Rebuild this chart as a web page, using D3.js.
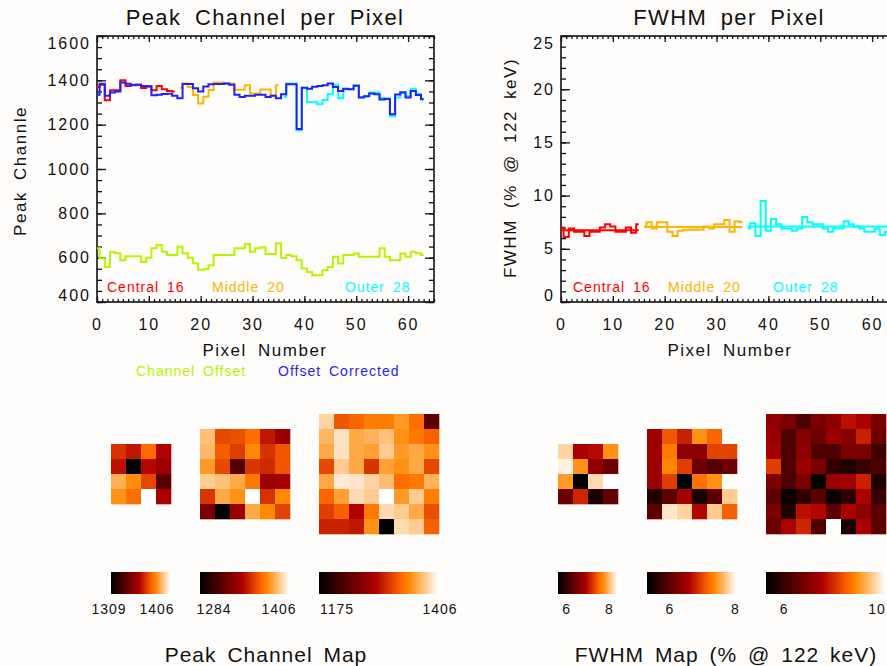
<!DOCTYPE html>
<html lang="en">
<head>
<meta charset="UTF-8">
<title>Peak Channel / FWHM per Pixel</title>
<script src="https://d3js.org/d3.v7.min.js"></script>
<style>
  body { margin: 0; background: #fffdfb; }
  svg { display: block; font-family: "Liberation Sans", Arial, sans-serif; }
  .title { font-size: 22px; letter-spacing: 1.4px; word-spacing: 6px; fill: #111; }
  .axis-title { font-size: 17px; letter-spacing: 1.5px; word-spacing: 5px; fill: #111; }
  .tick text { font-size: 16px; letter-spacing: 2px; fill: #111; }
  .tick line { stroke: #111; stroke-width: 1.3; }
  .legend { font-size: 14px; letter-spacing: 1px; word-spacing: 3px; }
  .cb-label { font-size: 14px; letter-spacing: 1px; fill: #111; }
  .map-title { font-size: 21px; letter-spacing: 1px; word-spacing: 4px; fill: #111; }
  .frame { fill: none; stroke: #111; stroke-width: 1.6; }
  .step { fill: none; stroke-width: 2; }
</style>
</head>
<body>
<script>
// pixel groups
const centralIdx = d3.range(0, 16);
const middleIdx = d3.range(16, 36);
const outerIdx = d3.range(36, 64);
const allIdx = d3.range(0, 64);

// peak channel per pixel (raw, by ring)
const peakCentral = [1370, 1380, 1310, 1355, 1355, 1400, 1375, 1380, 1380, 1365, 1372, 1355, 1375, 1360, 1352, 1350];
const peakMiddle = [1367, 1386, 1370, 1334, 1296, 1326, 1356, 1390, 1390, 1386, 1386, 1358, 1358, 1378, 1341, 1341, 1359, 1359, 1332, 1378];
const peakOuter = [1326, 1386, 1386, 1175, 1367, 1301, 1301, 1292, 1311, 1337, 1380, 1319, 1360, 1360, 1378, 1325, 1328, 1345, 1345, 1320,
                   1318, 1238, 1322, 1343, 1330, 1362, 1340, 1312];
const peakCorrected = [1335, 1385, 1330, 1345, 1350, 1390, 1385, 1378, 1380, 1375, 1373, 1333, 1335, 1338, 1340, 1330,
                       1319, 1383, 1383, 1364, 1350, 1372, 1382, 1383, 1383, 1386, 1380, 1335, 1325, 1330, 1330, 1335, 1335, 1325, 1330, 1319,
                       1337, 1382, 1382, 1180, 1367, 1362, 1371, 1375, 1378, 1386, 1370, 1352, 1362, 1360, 1376, 1323, 1328, 1341, 1337, 1314,
                       1316, 1247, 1336, 1346, 1323, 1352, 1334, 1316];
const channelOffset = [642, 596, 558, 626, 620, 588, 606, 606, 606, 580, 600, 642, 657, 627, 612, 612,
                       649, 620, 600, 575, 545, 548, 566, 612, 612, 612, 612, 642, 642, 662, 627, 642, 647, 617, 617, 665,
                       598, 612, 606, 588, 551, 535, 521, 521, 543, 558, 604, 574, 612, 612, 619, 604, 604, 604, 604, 642,
                       604, 588, 588, 619, 604, 627, 620, 612];

// FWHM (% @ 122 keV) per pixel
const fwhmCentral = [7.0, 6.1, 6.9, 6.6, 6.6, 6.2, 6.6, 6.6, 7.0, 7.3, 7.1, 6.6, 6.6, 7.0, 6.5, 7.3];
const fwhmMiddle = [7.1, 7.5, 6.9, 7.5, 7.5, 6.6, 6.2, 6.7, 6.8, 6.8, 6.8, 6.8, 7.1, 6.9, 7.3, 7.3, 7.7, 6.6, 7.6, 7.5];
const fwhmOuter = [6.9, 7.4, 6.2, 9.5, 6.7, 7.8, 7.3, 6.9, 6.9, 6.7, 6.9, 8.0, 7.5, 7.3, 7.3, 6.9, 6.6, 6.9, 6.9, 7.6,
                   7.3, 7.1, 6.9, 6.6, 6.6, 6.9, 6.3, 6.6];

// maps
const peakMapCentral = [
  [1365, 1359, 1376, 1355],
  [1358, 1309, 1356, 1350],
  [1390, 1383, 1369, 1333],
  [1384, 1377, 1406, 1354]];
const peakMapMiddle = [
  [1390, 1360, 1362, 1369, 1347, 1335],
  [1388, 1365, 1357, 1376, 1354, 1363],
  [1380, 1360, 1311, 1355, 1352, 1363],
  [1393, 1390, 1384, 1372, 1335, 1338],
  [1355, 1384, 1378, 1406, 1354, 1376],
  [1324, 1284, 1335, 1384, 1376, 1358]];
const peakMapOuter = [
  [1385, 1325, 1332, 1344, 1344, 1357, 1337, 1233],
  [1371, 1392, 1364, 1369, 1376, 1353, 1341, 1330],
  [1364, 1392, 1364, 1360, 1381, 1357, 1364, 1353],
  [1318, 1381, 1364, 1309, 1360, 1353, 1364, 1318],
  [1364, 1397, 1394, 1385, 1374, 1337, 1341, 1369],
  [1332, 1360, 1388, 1381, 1406, 1357, 1381, 1344],
  [1314, 1330, 1284, 1341, 1388, 1381, 1364, 1321],
  [1300, 1300, 1295, 1353, 1175, 1388, 1381, 1330]];
const fwhmMapCentral = [
  [8.15, 6.89, 6.97, 7.76],
  [8.32, 7.76, 6.66, 6.41],
  [7.81, 5.60, 8.18, 8.40],
  [6.41, 7.14, 5.80, 6.36]];
const fwhmMapMiddle = [
  [6.46, 7.09, 6.79, 7.42, 7.17, 8.05],
  [6.46, 7.28, 6.35, 6.35, 6.98, 6.98],
  [6.46, 7.36, 6.95, 6.10, 5.93, 6.10],
  [6.46, 6.95, 5.30, 7.23, 7.42, 8.05],
  [5.55, 5.99, 6.51, 5.49, 5.99, 7.75],
  [5.99, 7.91, 7.80, 6.62, 7.75, 7.14]];
const fwhmMapOuter = [
  [7.12, 6.92, 6.29, 6.92, 7.12, 7.70, 7.51, 6.92],
  [7.31, 6.29, 7.02, 6.68, 7.31, 7.02, 7.89, 6.68],
  [7.41, 6.29, 7.12, 6.29, 6.29, 6.92, 6.92, 6.10],
  [8.19, 6.29, 7.31, 6.92, 5.90, 5.71, 6.00, 6.29],
  [6.92, 6.29, 6.92, 5.27, 7.31, 7.41, 7.89, 5.71],
  [6.49, 5.46, 5.90, 6.49, 5.46, 5.90, 7.51, 6.00],
  [6.92, 5.71, 7.70, 7.60, 6.49, 7.51, 7.12, 6.49],
  [6.68, 7.51, 7.94, 6.29, 10.13, 5.61, 7.51, 6.49]];

// axis ticks
const xTicks = [0, 10, 20, 30, 40, 50, 60];
const xMinorTicks = d3.range(0, 66, 1);
const peakTicks = [400, 600, 800, 1000, 1200, 1400, 1600];
const peakMinorTicks = d3.range(400, 1601, 50);
const fwhmTicks = [0, 5, 10, 15, 20, 25];
const fwhmMinorTicks = d3.range(0, 26, 1);
const fwhmBarTicks = [[6, 8], [6, 8], [6, 10]];
const groupLabels = ["Central 16", "Middle 20", "Outer 28"];

const colRed = "#ff0000", colOrange = "#ffb400", colCyan = "#00ffff",
      colBlue = "#1f1fff", colGreen = "#b5f500";

const W = 887, H = 666;
const svg = d3.select("body").append("svg").attr("width", W).attr("height", H);
svg.append("rect").attr("width", W).attr("height", H).attr("fill", "#fffdfb");

// IDL "red temperature" colour table
const clamp = v => Math.max(0, Math.min(1, v));
const redTemp = t => d3.rgb(255 * clamp(t / 0.69), 255 * clamp((t - 0.47) / 0.53), 255 * clamp((t - 0.75) / 0.25)).toString();

function drawPlot(ox, yDomain, yMajor, yMinor) {
  const w = 337, h = 266;
  const g = svg.append("g").attr("transform", `translate(${ox},36)`);
  const x = d3.scaleLinear().domain([0, 65]).range([0, w]);
  const y = d3.scaleLinear().domain(yDomain).range([h, 0]);

  const ax = (sel, axis) => { sel.call(axis); sel.attr("font-size", null).attr("font-family", null); sel.select(".domain").remove(); return sel; };

  const left = ax(g.append("g"), d3.axisLeft(y).tickValues(yMajor).tickFormat(d3.format("d")).tickSizeInner(-9).tickSizeOuter(0).tickPadding(6));
  left.selectAll("text").attr("dy", (d, i, n) => i === 0 ? "-0.08em" : i === n.length - 1 ? "0.76em" : "0.32em");
  ax(g.append("g"), d3.axisLeft(y).tickValues(yMinor).tickSizeInner(-5).tickSizeOuter(0).tickFormat(""));
  ax(g.append("g").attr("transform", `translate(${w},0)`), d3.axisRight(y).tickValues(yMajor).tickSizeInner(-9).tickSizeOuter(0).tickFormat(""));
  ax(g.append("g").attr("transform", `translate(${w},0)`), d3.axisRight(y).tickValues(yMinor).tickSizeInner(-5).tickSizeOuter(0).tickFormat(""));
  ax(g.append("g").attr("transform", `translate(0,${h})`), d3.axisBottom(x).tickValues(xTicks).tickSizeInner(-6).tickSizeOuter(0).tickPadding(17));
  ax(g.append("g").attr("transform", `translate(0,${h})`), d3.axisBottom(x).tickValues(xMinorTicks).tickSizeInner(-3).tickSizeOuter(0).tickFormat(""));
  ax(g.append("g"), d3.axisTop(x).tickValues(xTicks).tickSizeInner(-6).tickSizeOuter(0).tickFormat(""));
  ax(g.append("g"), d3.axisTop(x).tickValues(xMinorTicks).tickSizeInner(-3).tickSizeOuter(0).tickFormat(""));

  g.append("rect").attr("class", "frame").attr("width", w).attr("height", h);
  return { g, x, y, w, h };
}

function stepLine(p, idx, vals, color) {
  const line = d3.line().curve(d3.curveStep).x(d => p.x(d[0])).y(d => p.y(d[1]));
  p.g.append("path").attr("class", "step").attr("stroke", color).attr("d", line(d3.zip(idx, vals)));
}

function meanLine(p, idx, vals, color) {
  const m = d3.mean(vals);
  p.g.append("line").attr("stroke", color).attr("stroke-width", 2)
    .attr("x1", p.x(idx[0])).attr("x2", p.x(idx[idx.length - 1]))
    .attr("y1", p.y(m)).attr("y2", p.y(m));
}

function text(x, y, str, cls, color, anchor = "middle") {
  return svg.append("text").attr("class", cls).attr("x", x).attr("y", y).attr("dy", "0.35em")
    .attr("text-anchor", anchor).attr("fill", color || null).text(str);
}

// --- left: peak channel per pixel
const pL = drawPlot(97, [400, 1600], peakTicks, peakMinorTicks);
stepLine(pL, allIdx, channelOffset, colGreen);
stepLine(pL, centralIdx, peakCentral, colRed);
stepLine(pL, middleIdx, peakMiddle, colOrange);
stepLine(pL, outerIdx, peakOuter, colCyan);
stepLine(pL, allIdx, peakCorrected, colBlue);

// --- right: FWHM per pixel
const pR = drawPlot(561, [0, 25], fwhmTicks, fwhmMinorTicks);
[[centralIdx, fwhmCentral, colRed], [middleIdx, fwhmMiddle, colOrange], [outerIdx, fwhmOuter, colCyan]].forEach(([idx, v, c]) => {
  stepLine(pR, idx, v, c);
  meanLine(pR, idx, v, c);
});

// titles and labels
text(265, 17, "Peak Channel per Pixel", "title");
text(729, 17, "FWHM per Pixel", "title");
text(265, 350, "Pixel Number", "axis-title");
text(730, 350, "Pixel Number", "axis-title");
svg.append("text").attr("class", "axis-title").attr("transform", "translate(20,171) rotate(-90)")
  .attr("text-anchor", "middle").attr("dy", "0.35em").text("Peak Channle");
svg.append("text").attr("class", "axis-title").attr("transform", "translate(510,168) rotate(-90)")
  .attr("text-anchor", "middle").attr("dy", "0.35em").text("FWHM (% @ 122 keV)");

const groupColors = [colRed, colOrange, colCyan];
[107, 212, 345].forEach((lx, i) => text(lx, 287, groupLabels[i], "legend", groupColors[i], "start"));
[573, 668, 773].forEach((lx, i) => text(lx, 287, groupLabels[i], "legend", groupColors[i], "start"));
text(136, 371, "Channel Offset", "legend", colGreen, "start");
text(278, 371, "Offset Corrected", "legend", colBlue, "start");

// --- maps and colour bars
const cell = 15, mapMid = 474, barY = 572, barH = 22;

function drawMap(m, x0) {
  const rows = m.length, cols = m[0].length;
  const color = d3.scaleSequential(redTemp).domain(d3.extent(m.flat()));
  const bx = d3.scaleBand().domain(d3.range(cols)).range([x0, x0 + cols * cell]);
  const by = d3.scaleBand().domain(d3.range(rows)).range([mapMid - rows * cell / 2, mapMid + rows * cell / 2]);
  const cells = m.flatMap((row, r) => row.map((v, c) => ({ r, c, v })));
  svg.append("g").selectAll("rect").data(cells).join("rect")
    .attr("x", d => bx(d.c)).attr("y", d => by(d.r))
    .attr("width", bx.bandwidth() + 0.3).attr("height", by.bandwidth() + 0.3)
    .attr("fill", d => color(d.v));

  const bw = cols * cell;
  svg.append("g").selectAll("rect").data(d3.range(bw)).join("rect")
    .attr("x", i => x0 + i).attr("y", barY).attr("width", 1.2).attr("height", barH)
    .attr("fill", i => redTemp(i / (bw - 1)));
  return d3.scaleLinear().domain(d3.extent(m.flat())).range([x0, x0 + bw]);
}

const peakMaps = [peakMapCentral, peakMapMiddle, peakMapOuter];
const peakX0 = [111, 200, 319];
const peakLabelOff = [[-2, 46], [14, 79], [18, 121]];
peakMaps.forEach((m, i) => {
  drawMap(m, peakX0[i]);
  const [lo, hi] = d3.extent(m.flat());
  text(peakX0[i] + peakLabelOff[i][0], 609, lo, "cb-label");
  text(peakX0[i] + peakLabelOff[i][1], 609, hi, "cb-label");
});

const fwhmMaps = [fwhmMapCentral, fwhmMapMiddle, fwhmMapOuter];
const fwhmX0 = [558, 647, 766];
fwhmMaps.forEach((m, i) => {
  const s = drawMap(m, fwhmX0[i]);
  // keep the last label inside the window
  fwhmBarTicks[i].forEach(t => text(Math.min(s(t), W - 10), 609, t, "cb-label"));
});

text(266, 655, "Peak Channel Map", "map-title");
text(726, 655, "FWHM Map (% @ 122 keV)", "map-title");
</script>
</body>
</html>
